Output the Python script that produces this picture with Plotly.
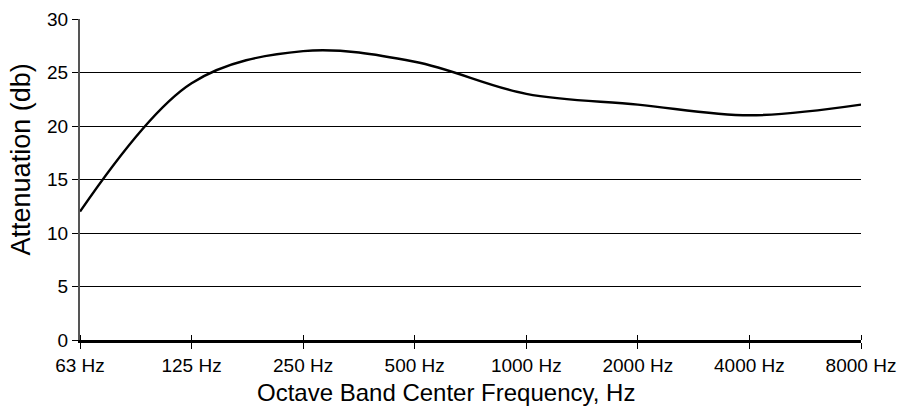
import plotly.graph_objects as go

categories = ["63 Hz", "125 Hz", "250 Hz", "500 Hz", "1000 Hz", "2000 Hz", "4000 Hz", "8000 Hz"]
attenuation = [12, 24, 27, 26, 23, 22, 21, 22]
y_ticks = [0, 5, 10, 15, 20, 25, 30]
x_title = "Octave Band Center Frequency, Hz"
y_title = "Attenuation (db)"

x_idx = list(range(len(categories)))

fig = go.Figure()
fig.add_trace(go.Scatter(
    x=x_idx, y=attenuation, mode="lines",
    line=dict(color="black", width=2.4, shape="spline", smoothing=1.0),
    showlegend=False, hoverinfo="skip"))

font_family = "Liberation Sans, Arial, sans-serif"
fig.update_layout(
    width=899, height=407,
    margin=dict(l=80, r=38, t=19, b=67),
    paper_bgcolor="white", plot_bgcolor="white",
    font=dict(family=font_family, color="black"),
)
fig.update_xaxes(
    range=[0, len(categories) - 1], tickmode="array", tickvals=x_idx, ticktext=categories,
    showgrid=False, showline=True, linecolor="black", linewidth=3,
    ticks="outside", ticklen=6, tickcolor="black", tickwidth=1,
    minor=dict(tickmode="array", tickvals=x_idx, ticks="inside", ticklen=5,
               tickcolor="black", tickwidth=1, showgrid=False),
    tickfont=dict(size=19, family=font_family),
    automargin=False, zeroline=False,
)
fig.update_yaxes(
    range=[0, 30], tickmode="array", tickvals=y_ticks,
    showgrid=True, gridcolor="black", gridwidth=1,
    showline=True, linecolor="#555555", linewidth=2,
    ticks="outside", ticklen=6, tickcolor="black", tickwidth=1,
    tickfont=dict(size=19, family=font_family),
    automargin=False, zeroline=False,
)
fig.add_annotation(text=x_title, xref="paper", yref="paper", x=0.468, y=-0.165,
                   xanchor="center", yanchor="middle", showarrow=False,
                   font=dict(size=24, family=font_family, color="black"))
fig.add_annotation(text=y_title, xref="paper", yref="paper", x=-0.0762, y=0.564,
                   xanchor="center", yanchor="middle", showarrow=False, textangle=-90,
                   font=dict(size=27, family=font_family, color="black"))

fig.write_html("out.html", config={"displayModeBar": False},
               post_script="document.body.style.margin='0';")
